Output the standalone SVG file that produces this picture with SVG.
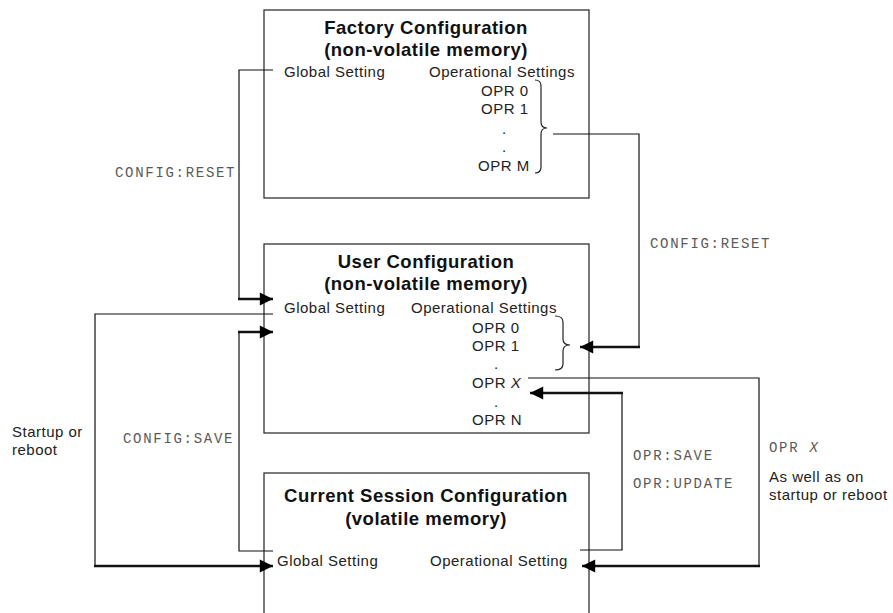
<svg xmlns="http://www.w3.org/2000/svg" width="893" height="613" viewBox="0 0 893 613">
<style>
.box{fill:#fff;stroke:#333;stroke-width:1.3}
.t{font-family:"Liberation Sans",Arial,sans-serif;font-weight:bold;font-size:18.5px;letter-spacing:0.5px;fill:#111;text-anchor:middle}
.s{font-family:"Liberation Sans",Arial,sans-serif;font-size:15px;letter-spacing:0.5px;fill:#222}
.m{font-family:"Liberation Mono","Courier New",monospace;font-size:14px;letter-spacing:1.7px;fill:#5a5a5a}
.c{fill:none;stroke:#111;stroke-width:1.2}
.k{fill:none;stroke:#111;stroke-width:2.4}
.br{fill:none;stroke:#222;stroke-width:1.2}
</style>
<defs>
<marker id="ah" viewBox="0 0 10 10" refX="10" refY="5" markerWidth="6.5" markerHeight="5.5" markerUnits="strokeWidth" orient="auto">
<path d="M0,0 L10,5 L0,10 Z" fill="#000"/>
</marker>
</defs>

<g id="factory">
<rect class="box" x="264" y="10" width="325" height="188"/>
<text class="t" x="426" y="34">Factory Configuration</text>
<text class="t" x="426" y="56">(non-volatile memory)</text>
<text class="s" x="284" y="77">Global Setting</text>
<text class="s" x="429" y="77">Operational Settings</text>
<text class="s" x="481" y="96">OPR 0</text>
<text class="s" x="481" y="114">OPR 1</text>
<text class="s" x="502" y="134">.</text>
<text class="s" x="502" y="152">.</text>
<text class="s" x="478" y="171">OPR M</text>
<path class="br" d="M535,80 Q541,80 541,86 L541,122 Q541,128 547,128 Q541,128 541,134 L541,167 Q541,173 535,173"/>
</g>

<g id="user">
<rect class="box" x="264" y="244" width="325" height="189"/>
<text class="t" x="426" y="268">User Configuration</text>
<text class="t" x="426" y="290">(non-volatile memory)</text>
<text class="s" x="284" y="313">Global Setting</text>
<text class="s" x="411" y="313">Operational Settings</text>
<text class="s" x="472" y="333">OPR 0</text>
<text class="s" x="472" y="351">OPR 1</text>
<text class="s" x="494" y="369">.</text>
<text class="s" x="472" y="388">OPR <tspan font-style="italic">X</tspan></text>
<text class="s" x="494" y="407">.</text>
<text class="s" x="472" y="425">OPR N</text>
<path class="br" d="M555,316 Q563,316 563,322 L563,339 Q563,345 570,345 Q563,345 563,351 L563,364 Q563,370 555,370"/>
</g>

<g id="current">
<rect class="box" x="264" y="473" width="325" height="170"/>
<text class="t" x="426" y="502">Current Session Configuration</text>
<text class="t" x="426" y="525">(volatile memory)</text>
<text class="s" x="277" y="566">Global Setting</text>
<text class="s" x="430" y="566">Operational Setting</text>
</g>

<g id="connectors">
<path class="c" d="M273,70 L239,70 L239,299"/>
<path class="k" d="M238,299 L273,299" marker-end="url(#ah)"/>
<path class="c" d="M273,314 L95,314 L95,566"/>
<path class="k" d="M94,566 L273,566" marker-end="url(#ah)"/>
<path class="c" d="M273,551 L239,551 L239,332"/>
<path class="k" d="M238,332 L273,332" marker-end="url(#ah)"/>
<path class="c" d="M553,134 L639,134 L639,347"/>
<path class="k" d="M640,347 L580,347" marker-end="url(#ah)"/>
<path class="c" d="M580,550 L622,550 L622,393"/>
<path class="k" d="M623,393 L530,393" marker-end="url(#ah)"/>
<path class="c" d="M528,378 L759,378 L759,566"/>
<path class="k" d="M760,566 L582,566" marker-end="url(#ah)"/>
</g>

<g id="labels">
<text class="m" x="115" y="177">CONFIG:RESET</text>
<text class="m" x="650" y="248">CONFIG:RESET</text>
<text class="m" x="123" y="443">CONFIG:SAVE</text>
<text class="s" x="12" y="437">Startup or</text>
<text class="s" x="12" y="455">reboot</text>
<text class="m" x="633" y="460">OPR:SAVE</text>
<text class="m" x="633" y="488">OPR:UPDATE</text>
<text class="m" x="769" y="452">OPR <tspan font-style="italic">X</tspan></text>
<text class="s" x="769" y="482">As well as on</text>
<text class="s" x="769" y="500">startup or reboot</text>
</g>
</svg>
